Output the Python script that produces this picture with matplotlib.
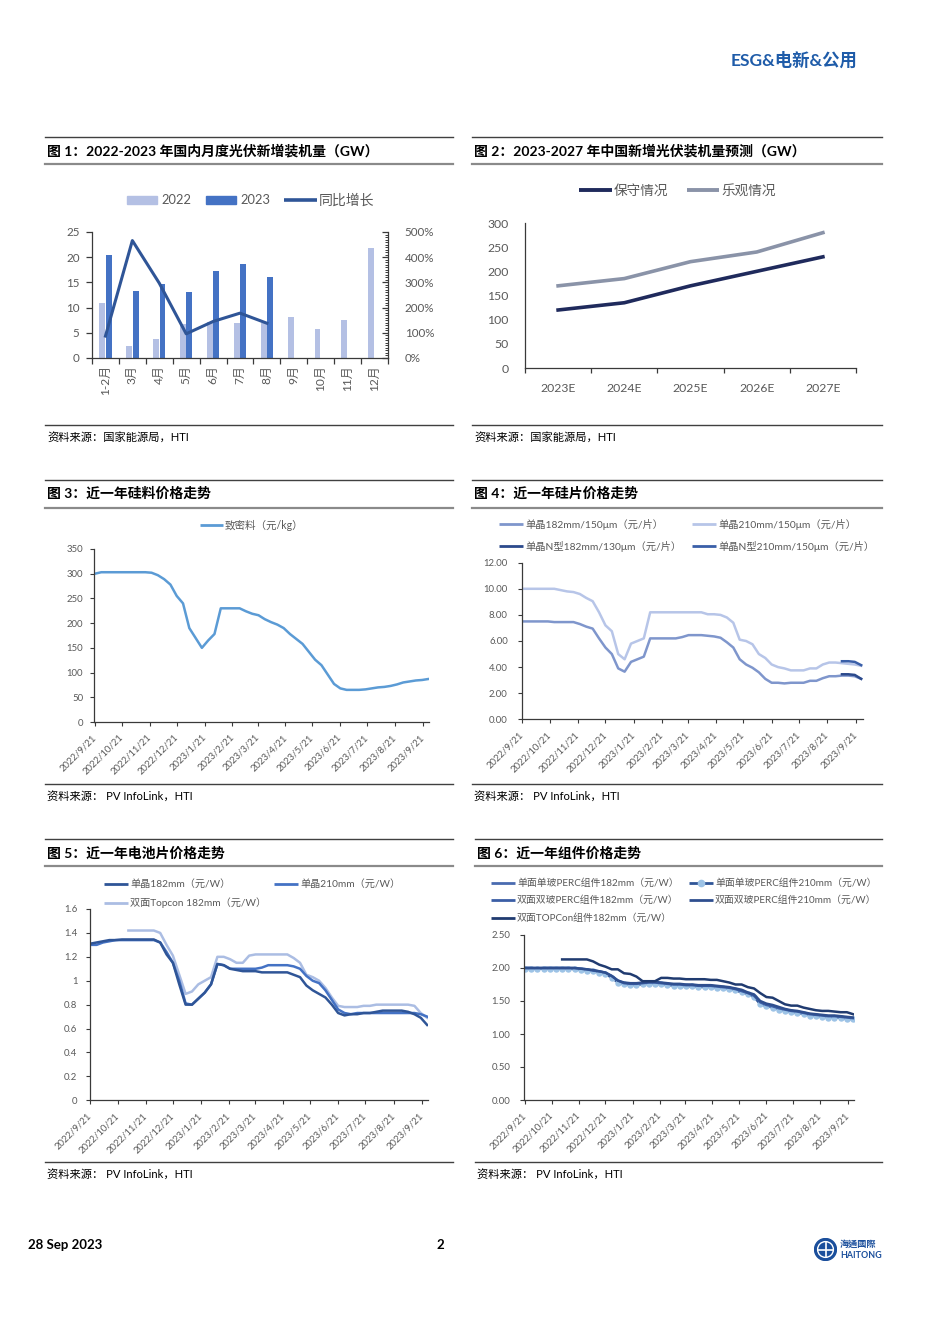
import numpy as np
import pandas as pd
import matplotlib
matplotlib.use("Agg")
import matplotlib.pyplot as plt
from matplotlib.lines import Line2D
from matplotlib.patches import Rectangle, Circle
from matplotlib.ticker import FuncFormatter, FormatStrFormatter

plt.rcParams["font.family"] = ["Lato", "Noto Sans CJK SC", "DejaVu Sans"]
plt.rcParams["axes.unicode_minus"] = False

W, H = 950, 1343
GRAY = "#595959"
AXC = "#3a3a3a"

# ---------------- data ----------------
# fig 1: monthly new PV installations (GW)
months = ["1-2月", "3月", "4月", "5月", "6月", "7月", "8月", "9月", "10月", "11月", "12月"]
gw_2022 = [10.9, 2.4, 3.7, 6.8, 7.1, 6.9, 7.0, 8.2, 5.7, 7.5, 21.8]
gw_2023 = [20.4, 13.3, 14.7, 13.0, 17.2, 18.7, 16.0]
yoy_pct = [87, 466, 297, 96, 145, 178, 138]

# fig 2: forecast (GW)
years = ["2023E", "2024E", "2025E", "2026E", "2027E"]
conservative = [120, 135, 170, 200, 230]
optimistic = [170, 185, 220, 240, 280]

# weekly price dates
weeks = pd.date_range("2022-09-21", periods=54, freq="7D")
tick_dates = pd.date_range("2022-09-21", periods=13, freq=pd.DateOffset(months=1))

# fig 3: polysilicon (yuan/kg)
poly = [300, 303, 303, 303, 303, 303, 303, 303, 303, 302,
        297, 289, 278, 255, 240, 190, 170, 150, 165, 178,
        230, 230, 230, 230, 224, 219, 216, 208, 202, 197,
        190, 178, 168, 158, 142, 126, 115, 96, 77, 68,
        65, 65, 65, 66, 68, 70, 71, 73, 76, 80,
        82, 84, 85, 87]

# fig 4: wafers (yuan/pc)
nan = np.nan
wafer_182 = [7.5, 7.5, 7.5, 7.5, 7.5, 7.45, 7.45, 7.45, 7.45, 7.3,
             7.1, 6.95, 6.2, 5.5, 5.0, 3.9, 3.65, 4.4, 4.6, 4.8,
             6.2, 6.2, 6.2, 6.2, 6.2, 6.3, 6.45, 6.45, 6.45, 6.4,
             6.35, 6.25, 5.9, 5.5, 4.6, 4.2, 3.95, 3.6, 3.1, 2.8,
             2.8, 2.75, 2.8, 2.8, 2.8, 2.95, 2.95, 3.15, 3.3, 3.3,
             3.35, 3.35, 3.3, 3.1]
wafer_210 = [10.0, 10.0, 10.0, 10.0, 10.0, 10.0, 9.9, 9.8, 9.75, 9.6,
             9.3, 9.05, 8.2, 7.2, 6.75, 5.0, 4.6, 5.8, 6.0, 6.2,
             8.2, 8.2, 8.2, 8.2, 8.2, 8.2, 8.2, 8.2, 8.2, 8.05,
             8.05, 8.0, 7.8, 7.4, 6.1, 6.0, 5.75, 5.0, 4.7, 4.2,
             4.0, 3.9, 3.75, 3.75, 3.75, 3.9, 3.9, 4.2, 4.35, 4.35,
             4.3, 4.25, 4.2, 4.1]
wafer_n182 = [nan] * 50 + [3.45, 3.45, 3.4, 3.1]
wafer_n210 = [nan] * 50 + [4.45, 4.45, 4.4, 4.15]

# fig 5: cells (yuan/W)
cell_182 = [1.31, 1.32, 1.33, 1.34, 1.34, 1.345, 1.345, 1.345, 1.345, 1.345,
            1.345, 1.32, 1.22, 1.15, 0.97, 0.80, 0.80, 0.85, 0.90, 0.97,
            1.14, 1.13, 1.10, 1.09, 1.08, 1.08, 1.08, 1.07, 1.07, 1.07,
            1.07, 1.07, 1.05, 1.03, 0.96, 0.92, 0.89, 0.86, 0.80, 0.73,
            0.71, 0.72, 0.72, 0.73, 0.73, 0.74, 0.75, 0.75, 0.75, 0.75,
            0.74, 0.72, 0.69, 0.63]
cell_210 = [1.30, 1.30, 1.32, 1.33, 1.34, 1.34, 1.34, 1.34, 1.34, 1.34,
            1.34, 1.32, 1.24, 1.15, 1.00, 0.81, 0.80, 0.85, 0.90, 0.97,
            1.14, 1.13, 1.10, 1.10, 1.10, 1.10, 1.10, 1.11, 1.13, 1.13,
            1.13, 1.13, 1.12, 1.10, 1.04, 1.00, 0.98, 0.92, 0.84, 0.76,
            0.73, 0.72, 0.73, 0.73, 0.73, 0.73, 0.73, 0.73, 0.73, 0.73,
            0.73, 0.73, 0.72, 0.70]
cell_topcon = [nan] * 6 + [1.42, 1.42, 1.42, 1.42,
               1.42, 1.40, 1.30, 1.21, 1.05, 0.89, 0.91, 0.97, 1.00, 1.03,
               1.20, 1.20, 1.18, 1.15, 1.15, 1.21, 1.22, 1.22, 1.22, 1.22,
               1.22, 1.22, 1.19, 1.15, 1.05, 1.03, 1.00, 0.94, 0.86, 0.79,
               0.78, 0.78, 0.78, 0.79, 0.79, 0.80, 0.80, 0.80, 0.80, 0.80,
               0.80, 0.79, 0.73, 0.69]

# fig 6: modules (yuan/W)
mod_s182 = [2.00, 2.00, 1.99, 2.00, 2.00, 2.00, 2.00, 2.00, 1.99, 1.98,
            1.97, 1.96, 1.94, 1.92, 1.87, 1.80, 1.76, 1.75, 1.75, 1.76,
            1.77, 1.77, 1.76, 1.75, 1.74, 1.74, 1.73, 1.73, 1.72, 1.72,
            1.72, 1.71, 1.70, 1.69, 1.67, 1.64, 1.61, 1.57, 1.47, 1.43,
            1.41, 1.38, 1.36, 1.34, 1.33, 1.31, 1.29, 1.28, 1.27, 1.26,
            1.26, 1.25, 1.24, 1.23]
mod_s210 = [1.99, 1.99, 1.99, 1.99, 1.99, 1.99, 1.99, 1.99, 1.98, 1.97,
            1.96, 1.95, 1.93, 1.91, 1.85, 1.78, 1.75, 1.74, 1.74, 1.75,
            1.76, 1.76, 1.75, 1.74, 1.73, 1.73, 1.72, 1.72, 1.71, 1.71,
            1.71, 1.70, 1.69, 1.68, 1.66, 1.63, 1.60, 1.56, 1.45, 1.42,
            1.40, 1.37, 1.35, 1.33, 1.32, 1.30, 1.28, 1.27, 1.26, 1.25,
            1.25, 1.24, 1.23, 1.22]
mod_d182 = [2.00, 2.00, 2.00, 2.00, 2.00, 2.00, 2.00, 2.00, 2.00, 1.99,
            1.98, 1.96, 1.95, 1.93, 1.88, 1.81, 1.77, 1.76, 1.76, 1.77,
            1.78, 1.78, 1.77, 1.76, 1.75, 1.75, 1.74, 1.74, 1.73, 1.73,
            1.73, 1.72, 1.71, 1.70, 1.68, 1.65, 1.62, 1.58, 1.48, 1.44,
            1.42, 1.39, 1.37, 1.35, 1.34, 1.32, 1.30, 1.29, 1.28, 1.27,
            1.27, 1.26, 1.25, 1.24]
mod_d210 = [2.00, 2.00, 2.00, 2.00, 2.00, 2.00, 2.00, 2.00, 2.00, 1.99,
            1.98, 1.97, 1.95, 1.93, 1.88, 1.81, 1.78, 1.77, 1.77, 1.78,
            1.79, 1.79, 1.78, 1.77, 1.76, 1.76, 1.75, 1.75, 1.74, 1.74,
            1.74, 1.73, 1.72, 1.71, 1.69, 1.67, 1.63, 1.60, 1.50, 1.46,
            1.44, 1.41, 1.38, 1.36, 1.35, 1.33, 1.31, 1.30, 1.29, 1.28,
            1.28, 1.27, 1.26, 1.25]
mod_topcon = [nan] * 6 + [2.13, 2.13, 2.13, 2.13,
              2.13, 2.10, 2.05, 2.02, 1.98, 1.98, 1.92, 1.91, 1.87, 1.80,
              1.80, 1.80, 1.85, 1.85, 1.84, 1.84, 1.83, 1.83, 1.83, 1.83,
              1.82, 1.82, 1.80, 1.78, 1.75, 1.75, 1.71, 1.69, 1.62, 1.56,
              1.55, 1.50, 1.45, 1.43, 1.43, 1.40, 1.38, 1.36, 1.35, 1.35,
              1.34, 1.33, 1.33, 1.30]

# ---------------- page helpers ----------------
fig = plt.figure(figsize=(9.5, 13.43), dpi=100)


def fy(y):
    return 1 - y / H


def add_ax(l, t, r, b):
    return fig.add_axes([l / W, 1 - b / H, (r - l) / W, (b - t) / H])


def hline(x0, x1, y, color, lw):
    fig.add_artist(Line2D([x0 / W, x1 / W], [fy(y), fy(y)], color=color, lw=lw,
                          transform=fig.transFigure))


def leg_line(x0, x1, y, color, label, fs, lw=2.2, marker=None, mfc=None):
    fig.add_artist(Line2D([x0 / W, x1 / W], [fy(y), fy(y)], color=color, lw=lw,
                          solid_capstyle="butt", transform=fig.transFigure))
    if marker:
        fig.add_artist(Line2D([(x0 + x1) / 2 / W], [fy(y)], lw=0, marker=marker, ms=4.5,
                              mfc=mfc, mec=mfc, transform=fig.transFigure))
    fig.text((x1 + 2) / W, fy(y), label, fontsize=fs, color=GRAY, va="center", ha="left")


def leg_patch(x0, x1, y, color, label, fs):
    fig.add_artist(Rectangle((x0 / W, fy(y + 4)), (x1 - x0) / W, 8 / H, color=color,
                             transform=fig.transFigure))
    fig.text((x1 + 4) / W, fy(y), label, fontsize=fs, color=GRAY, va="center", ha="left")


def frame(x0, x1, y_top, y_title, y_sub, y_src, y_srctxt, title, source):
    hline(x0, x1, y_top, "#404040", 1.0)
    hline(x0, x1, y_sub, "#8a8a8a", 1.6)
    hline(x0, x1, y_src, "#404040", 1.0)
    fig.text((x0 + 2) / W, fy(y_title), title, fontsize=10, fontweight="bold",
             va="center", ha="left", color="black")
    fig.text((x0 + 2) / W, fy(y_srctxt), source, fontsize=8.1, va="center", ha="left",
             color="black")


def style(ax, spines=("left", "bottom")):
    for s in ax.spines:
        ax.spines[s].set_visible(s in spines)
        ax.spines[s].set_color(AXC)
        ax.spines[s].set_linewidth(0.9)
    ax.patch.set_alpha(0)


def price_axes(box, ymax, step, fmt, lo, hi, pad):
    ax = add_ax(*box)
    style(ax)
    ax.set_xlim(weeks[0] - pd.Timedelta(days=lo), weeks[-1] + pd.Timedelta(days=hi))
    ax.set_ylim(0, ymax)
    ax.set_yticks(np.arange(0, ymax + step / 2, step))
    ax.yaxis.set_major_formatter(fmt)
    ax.set_xticks(tick_dates)
    ax.set_xticklabels([f"{d.year}/{d.month}/{d.day}" for d in tick_dates],
                       rotation=45, ha="right", va="center", rotation_mode="anchor")
    ax.tick_params(axis="x", length=3, width=0.8, color=AXC, labelsize=6.9,
                   labelcolor=GRAY, pad=7)
    ax.tick_params(axis="y", length=3, width=0.8, color=AXC, labelsize=6.9,
                   labelcolor=GRAY, pad=pad)
    return ax


# ---------------- header / footer ----------------
fig.text(857 / W, fy(60), "ESG&电新&公用", ha="right", va="center", fontsize=12.5,
         fontweight="bold", color="#1f5ca9")
fig.text(28 / W, fy(1245), "28 Sep 2023", ha="left", va="center", fontsize=9.5,
         fontweight="bold", color="black")
fig.text(440 / W, fy(1245), "2", ha="center", va="center", fontsize=9.5,
         fontweight="bold", color="black")
logo = add_ax(814, 1238, 837, 1261)
logo.set_xlim(-1.05, 1.05)
logo.set_ylim(-1.05, 1.05)
logo.set_aspect("equal")
logo.axis("off")
logo.add_patch(Circle((0, 0), 1, color="#1b4f9c"))
logo.add_patch(Circle((0, 0), 0.72, fill=False, ec="white", lw=1.0))
logo.plot([-0.72, 0.72], [0, 0], color="white", lw=1.2)
logo.plot([0, 0], [-0.72, 0.72], color="white", lw=1.2)
fig.text(840 / W, fy(1244), "海通國際", ha="left", va="center", fontsize=6.6,
         fontweight="bold", color="#1b4f9c", family=["Noto Sans CJK TC", "DejaVu Sans"])
fig.text(840 / W, fy(1255), "HAITONG", ha="left", va="center", fontsize=6.4,
         fontweight="bold", color="#1b4f9c")

# ---------------- frames ----------------
frame(45, 453, 137, 151, 164, 425, 437, "图 1：2022-2023 年国内月度光伏新增装机量（GW）",
      "资料来源：国家能源局，HTI")
frame(472, 882, 137, 151, 164, 425, 437, "图 2：2023-2027 年中国新增光伏装机量预测（GW）",
      "资料来源：国家能源局，HTI")
frame(45, 453, 480, 493, 508, 784, 796, "图 3：近一年硅料价格走势", "资料来源： PV InfoLink，HTI")
frame(472, 882, 480, 493, 508, 784, 796, "图 4：近一年硅片价格走势", "资料来源： PV InfoLink，HTI")
frame(45, 453, 839, 853, 866, 1162, 1174, "图 5：近一年电池片价格走势", "资料来源： PV InfoLink，HTI")
frame(475, 882, 839, 853, 866, 1162, 1174, "图 6：近一年组件价格走势", "资料来源： PV InfoLink，HTI")

# ---------------- fig 1 ----------------
C22, C23, CYOY = "#b4c0e4", "#4472c4", "#2f5597"
ax1 = add_ax(92, 232, 388, 358)
style(ax1)
x = np.arange(len(months))
ax1.bar(x[:len(gw_2022)] - 0.12, gw_2022, width=0.22, color=C22)
ax1.bar(x[:len(gw_2023)] + 0.12, gw_2023, width=0.22, color=C23)
ax1.set_xlim(-0.5, len(months) - 0.5)
ax1.set_ylim(0, 25)
ax1.set_yticks(range(0, 26, 5))
ax1.set_xticks(x)
ax1.set_xticklabels(months, rotation=90, va="top", ha="center")
ax1.set_xticks(np.arange(-0.5, len(months), 1), minor=True)
ax1.tick_params(axis="x", which="major", length=0, labelsize=8.6, labelcolor=GRAY, pad=5)
ax1.tick_params(axis="x", which="minor", length=4, width=0.9, color=AXC)
ax1.tick_params(axis="y", length=4, width=0.9, color=AXC, labelsize=8.4, labelcolor=GRAY, pad=5)
ax1r = ax1.twinx()
style(ax1r, spines=("right",))
ax1r.plot(x[:len(yoy_pct)], yoy_pct, color=CYOY, lw=2.2)
ax1r.set_ylim(0, 500)
ax1r.set_yticks(range(0, 501, 100))
ax1r.set_yticks(range(0, 501, 10), minor=True)
ax1r.yaxis.set_major_formatter(FuncFormatter(lambda v, p: f"{v:.0f}%"))
ax1r.tick_params(axis="y", which="major", direction="in", length=4, width=0.9, color=AXC,
                 labelsize=8.4, labelcolor=GRAY, pad=12)
ax1r.tick_params(axis="y", which="minor", direction="in", length=2.5, width=0.7, color=AXC)
leg_patch(127, 157, 200, C22, "2022", 9.3)
leg_patch(206, 236, 200, C23, "2023", 9.3)
leg_line(284, 317, 200, CYOY, "同比增长", 10, lw=2.6)

# ---------------- fig 2 ----------------
CCON, COPT = "#1f2a5c", "#8a93a8"
ax2 = add_ax(525, 223, 856, 368)
style(ax2)
x2 = np.arange(len(years))
ax2.plot(x2, optimistic, color=COPT, lw=2.6)
ax2.plot(x2, conservative, color=CCON, lw=2.6)
ax2.set_xlim(-0.5, len(years) - 0.5)
ax2.set_ylim(0, 300)
ax2.set_yticks(range(0, 301, 50))
ax2.set_xticks(x2)
ax2.set_xticklabels(years)
ax2.set_xticks(np.arange(-0.5, len(years), 1), minor=True)
ax2.tick_params(axis="x", which="major", length=0, labelsize=8.8, labelcolor=GRAY, pad=11)
ax2.tick_params(axis="x", which="minor", length=3.5, width=0.9, color=AXC)
ax2.tick_params(axis="y", length=0, labelsize=8.8, labelcolor=GRAY, pad=12)
leg_line(579, 612, 190, CCON, "保守情况", 9.8, lw=2.8)
leg_line(687, 719, 190, COPT, "乐观情况", 9.8, lw=2.8)

# ---------------- fig 3 ----------------
CPOLY = "#5b9bd5"
ax3 = price_axes((94.3, 549, 429.3, 722), 350, 50, FormatStrFormatter("%d"), 0.7, 1.0, 5)
ax3.plot(weeks, poly, color=CPOLY, lw=1.8)
leg_line(200, 223, 525, CPOLY, "致密料（元/kg）", 7.6, lw=2.0)

# ---------------- fig 4 ----------------
C182, C210, CN182, CN210 = "#7f96cc", "#b7c5e8", "#2c4a8c", "#3a5fa8"
ax4 = price_axes((521.7, 562.7, 862.7, 719.3), 12, 2, FormatStrFormatter("%.2f"), 0.7, 1.7, 7)
ax4.plot(weeks, wafer_210, color=C210, lw=1.8)
ax4.plot(weeks, wafer_182, color=C182, lw=1.8)
ax4.plot(weeks, wafer_n210, color=CN210, lw=1.8)
ax4.plot(weeks, wafer_n182, color=CN182, lw=1.8)
leg_line(499, 523, 524, C182, "单晶182mm/150μm（元/片）", 7.4, lw=2.0)
leg_line(692, 716, 524, C210, "单晶210mm/150μm（元/片）", 7.4, lw=2.0)
leg_line(499, 523, 546, CN182, "单晶N型182mm/130μm（元/片）", 7.4, lw=2.0)
leg_line(692, 716, 546, CN210, "单晶N型210mm/150μm（元/片）", 7.4, lw=2.0)

# ---------------- fig 5 ----------------
CC182, CC210, CTOP = "#2f5597", "#4472c4", "#abbde3"
ax5 = price_axes((90, 909, 427.7, 1100.3), 1.6, 0.2,
                 FuncFormatter(lambda v, p: f"{round(v, 1):g}"), 0.3, 0.6, 6)
ax5.plot(weeks, cell_topcon, color=CTOP, lw=1.8)
ax5.plot(weeks, cell_210, color=CC210, lw=1.8)
ax5.plot(weeks, cell_182, color=CC182, lw=1.8)
leg_line(104, 128, 884, CC182, "单晶182mm（元/W）", 7.3, lw=2.0)
leg_line(274, 298, 884, CC210, "单晶210mm（元/W）", 7.3, lw=2.0)
leg_line(104, 128, 903, CTOP, "双面Topcon 182mm（元/W）", 7.3, lw=2.0)

# ---------------- fig 6 ----------------
CS182, CS210, CMK, CD182, CD210, CMTOP = "#4a6bb0", "#2f5597", "#9dc3e6", "#3b5ea6", "#2f4f8f", "#203b70"
ax6 = price_axes((524.3, 935, 854.3, 1100), 2.5, 0.5, FormatStrFormatter("%.2f"), 0.8, 1.4, 7)
ax6.plot(weeks, mod_s182, color=CS182, lw=1.8)
ax6.plot(weeks, mod_s210, color=CS210, lw=1.6, marker="o", ms=3.6, mfc=CMK, mec=CMK)
ax6.plot(weeks, mod_d182, color=CD182, lw=1.8)
ax6.plot(weeks, mod_d210, color=CD210, lw=1.8)
ax6.plot(weeks, mod_topcon, color=CMTOP, lw=1.8)
leg_line(491, 515, 883, CS182, "单面单玻PERC组件182mm（元/W）", 7.1, lw=2.0)
leg_line(689, 713, 883, CS210, "单面单玻PERC组件210mm（元/W）", 7.1, lw=2.0, marker="o", mfc=CMK)
leg_line(491, 515, 900, CD182, "双面双玻PERC组件182mm（元/W）", 7.1, lw=2.0)
leg_line(689, 713, 900, CD210, "双面双玻PERC组件210mm（元/W）", 7.1, lw=2.0)
leg_line(491, 515, 918, CMTOP, "双面TOPCon组件182mm（元/W）", 7.1, lw=2.0)

fig.savefig("out.png", dpi=100, facecolor="white")
